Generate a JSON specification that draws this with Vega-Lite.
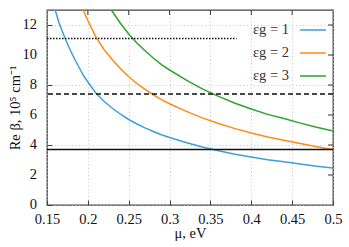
{
  "$schema": "https://vega.github.io/schema/vega-lite/v6.json",
  "width": 286,
  "height": 195,
  "autosize": {"type": "none"},
  "padding": {"left": 47, "top": 10, "right": 16, "bottom": 42},
  "config": {
    "view": {"stroke": "#444", "strokeWidth": 1.3},
    "font": "Liberation Serif",
    "axis": {
      "domain": false,
      "tickColor": "#444",
      "tickSize": -5,
      "tickWidth": 1.1,
      "labelFont": "Liberation Serif",
      "labelFontSize": 14.5,
      "labelColor": "#111",
      "labelOverlap": false,
      "labelFlush": false,
      "titleFont": "Liberation Serif",
      "titleFontSize": 14.5,
      "titleFontWeight": "normal",
      "titleColor": "#111",
      "grid": true,
      "gridColor": "#bbb",
      "gridDash": [1, 2.5],
      "gridWidth": 0.8
    },
    "legend": {
      "labelFont": "Liberation Serif",
      "labelFontSize": 14.5,
      "labelColor": "#333"
    }
  },
  "datasets": {
    "curves": [
      {"mu": 0.158, "beta": 13.4, "eps": "εg = 1"},
      {"mu": 0.160, "beta": 13.0, "eps": "εg = 1"},
      {"mu": 0.165, "beta": 12.1, "eps": "εg = 1"},
      {"mu": 0.170, "beta": 11.4, "eps": "εg = 1"},
      {"mu": 0.175, "beta": 10.75, "eps": "εg = 1"},
      {"mu": 0.180, "beta": 10.15, "eps": "εg = 1"},
      {"mu": 0.185, "beta": 9.6, "eps": "εg = 1"},
      {"mu": 0.190, "beta": 9.1, "eps": "εg = 1"},
      {"mu": 0.195, "beta": 8.6, "eps": "εg = 1"},
      {"mu": 0.200, "beta": 8.2, "eps": "εg = 1"},
      {"mu": 0.210, "beta": 7.45, "eps": "εg = 1"},
      {"mu": 0.220, "beta": 6.9, "eps": "εg = 1"},
      {"mu": 0.230, "beta": 6.45, "eps": "εg = 1"},
      {"mu": 0.240, "beta": 6.05, "eps": "εg = 1"},
      {"mu": 0.250, "beta": 5.7, "eps": "εg = 1"},
      {"mu": 0.260, "beta": 5.4, "eps": "εg = 1"},
      {"mu": 0.270, "beta": 5.14, "eps": "εg = 1"},
      {"mu": 0.280, "beta": 4.9, "eps": "εg = 1"},
      {"mu": 0.290, "beta": 4.68, "eps": "εg = 1"},
      {"mu": 0.300, "beta": 4.5, "eps": "εg = 1"},
      {"mu": 0.320, "beta": 4.17, "eps": "εg = 1"},
      {"mu": 0.340, "beta": 3.87, "eps": "εg = 1"},
      {"mu": 0.360, "beta": 3.62, "eps": "εg = 1"},
      {"mu": 0.380, "beta": 3.39, "eps": "εg = 1"},
      {"mu": 0.400, "beta": 3.2, "eps": "εg = 1"},
      {"mu": 0.420, "beta": 3.02, "eps": "εg = 1"},
      {"mu": 0.440, "beta": 2.88, "eps": "εg = 1"},
      {"mu": 0.460, "beta": 2.73, "eps": "εg = 1"},
      {"mu": 0.480, "beta": 2.59, "eps": "εg = 1"},
      {"mu": 0.500, "beta": 2.46, "eps": "εg = 1"},
      {"mu": 0.190, "beta": 13.65, "eps": "εg = 2"},
      {"mu": 0.195, "beta": 12.9, "eps": "εg = 2"},
      {"mu": 0.200, "beta": 12.3, "eps": "εg = 2"},
      {"mu": 0.210, "beta": 11.18, "eps": "εg = 2"},
      {"mu": 0.220, "beta": 10.35, "eps": "εg = 2"},
      {"mu": 0.230, "beta": 9.68, "eps": "εg = 2"},
      {"mu": 0.240, "beta": 9.08, "eps": "εg = 2"},
      {"mu": 0.250, "beta": 8.55, "eps": "εg = 2"},
      {"mu": 0.260, "beta": 8.1, "eps": "εg = 2"},
      {"mu": 0.270, "beta": 7.71, "eps": "εg = 2"},
      {"mu": 0.280, "beta": 7.35, "eps": "εg = 2"},
      {"mu": 0.290, "beta": 7.02, "eps": "εg = 2"},
      {"mu": 0.300, "beta": 6.75, "eps": "εg = 2"},
      {"mu": 0.320, "beta": 6.26, "eps": "εg = 2"},
      {"mu": 0.340, "beta": 5.81, "eps": "εg = 2"},
      {"mu": 0.360, "beta": 5.43, "eps": "εg = 2"},
      {"mu": 0.380, "beta": 5.09, "eps": "εg = 2"},
      {"mu": 0.400, "beta": 4.8, "eps": "εg = 2"},
      {"mu": 0.420, "beta": 4.53, "eps": "εg = 2"},
      {"mu": 0.440, "beta": 4.32, "eps": "εg = 2"},
      {"mu": 0.460, "beta": 4.1, "eps": "εg = 2"},
      {"mu": 0.480, "beta": 3.89, "eps": "εg = 2"},
      {"mu": 0.500, "beta": 3.7, "eps": "εg = 2"},
      {"mu": 0.220, "beta": 13.8, "eps": "εg = 3"},
      {"mu": 0.230, "beta": 12.9, "eps": "εg = 3"},
      {"mu": 0.240, "beta": 12.1, "eps": "εg = 3"},
      {"mu": 0.250, "beta": 11.4, "eps": "εg = 3"},
      {"mu": 0.260, "beta": 10.8, "eps": "εg = 3"},
      {"mu": 0.270, "beta": 10.28, "eps": "εg = 3"},
      {"mu": 0.280, "beta": 9.8, "eps": "εg = 3"},
      {"mu": 0.290, "beta": 9.36, "eps": "εg = 3"},
      {"mu": 0.300, "beta": 9.0, "eps": "εg = 3"},
      {"mu": 0.320, "beta": 8.34, "eps": "εg = 3"},
      {"mu": 0.340, "beta": 7.74, "eps": "εg = 3"},
      {"mu": 0.360, "beta": 7.24, "eps": "εg = 3"},
      {"mu": 0.380, "beta": 6.78, "eps": "εg = 3"},
      {"mu": 0.400, "beta": 6.4, "eps": "εg = 3"},
      {"mu": 0.420, "beta": 6.04, "eps": "εg = 3"},
      {"mu": 0.440, "beta": 5.76, "eps": "εg = 3"},
      {"mu": 0.460, "beta": 5.46, "eps": "εg = 3"},
      {"mu": 0.480, "beta": 5.18, "eps": "εg = 3"},
      {"mu": 0.500, "beta": 4.94, "eps": "εg = 3"}
    ],
    "solid": [{"level": 3.7}],
    "dashed": [{"level": 7.4}],
    "dotted": [{"from": 0.15, "to": 0.382, "level": 11.1}],
    "xticks": [{"t": 0.2}, {"t": 0.25}, {"t": 0.3}, {"t": 0.35}, {"t": 0.4}, {"t": 0.45}],
    "yticks": [{"t": 2}, {"t": 4}, {"t": 6}, {"t": 8}, {"t": 10}, {"t": 12}],
    "ylabels": [{"t": 0}, {"t": 2}, {"t": 4}, {"t": 6}, {"t": 8}, {"t": 10}, {"t": 12}]
  },
  "layer": [
    {
      "data": {"name": "curves"},
      "mark": {"type": "line", "clip": true, "strokeWidth": 1.5},
      "encoding": {
        "x": {
          "field": "mu", "type": "quantitative",
          "scale": {"domain": [0.15, 0.5], "nice": false, "zero": false},
          "axis": {
            "title": "μ, eV",
            "values": [0.15, 0.2, 0.25, 0.3, 0.35, 0.4, 0.45, 0.5],
            "format": "~g",
            "labelOverlap": false,
            "labelPadding": 12,
            "titlePadding": 1
          }
        },
        "y": {
          "field": "beta", "type": "quantitative",
          "scale": {"domain": [0, 13], "nice": false, "zero": false},
          "axis": {
            "title": "Re β, 10⁵ cm⁻¹",
            "values": [0, 2, 4, 6, 8, 10, 12],
            "labels": false,
            "titlePadding": 24
          }
        },
        "color": {
          "field": "eps", "type": "nominal",
          "scale": {"domain": ["εg = 1", "εg = 2", "εg = 3"], "range": ["#3f9fd5", "#ff8a17", "#2ba52d"]},
          "legend": {
            "title": null,
            "orient": "none",
            "legendX": 252,
            "legendY": 6,
            "padding": 0,
            "symbolType": "stroke",
            "symbolSize": 676,
            "symbolStrokeWidth": 1.5,
            "labelAlign": "right",
            "labelOffset": -38,
            "rowPadding": 2
          }
        }
      }
    },
    {
      "data": {"name": "ylabels"},
      "mark": {"type": "text", "align": "right", "baseline": "middle", "dx": -10, "font": "Liberation Serif", "fontSize": 14.5, "color": "#111"},
      "encoding": {
        "y": {"field": "t", "type": "quantitative"},
        "x": {"datum": 0.15},
        "text": {"field": "t", "type": "quantitative"}
      }
    },
    {
      "data": {"name": "solid"},
      "mark": {"type": "rule", "color": "#111", "strokeWidth": 1.3},
      "encoding": {"y": {"field": "level", "type": "quantitative"}}
    },
    {
      "data": {"name": "dashed"},
      "mark": {"type": "rule", "color": "#111", "strokeWidth": 1.3, "strokeDash": [5, 3]},
      "encoding": {"y": {"field": "level", "type": "quantitative"}}
    },
    {
      "data": {"name": "dotted"},
      "mark": {"type": "rule", "color": "#111", "strokeWidth": 1.3, "strokeDash": [1.5, 1.5]},
      "encoding": {
        "x": {"field": "from", "type": "quantitative"},
        "x2": {"field": "to"},
        "y": {"field": "level", "type": "quantitative"}
      }
    },
    {
      "data": {"name": "xticks"},
      "mark": {"type": "rule", "color": "#444", "strokeWidth": 1.1},
      "encoding": {
        "x": {"field": "t", "type": "quantitative"},
        "y": {"datum": 13},
        "y2": {"datum": 12.67}
      }
    },
    {
      "data": {"name": "yticks"},
      "mark": {"type": "rule", "color": "#444", "strokeWidth": 1.1},
      "encoding": {
        "y": {"field": "t", "type": "quantitative"},
        "x": {"datum": 0.5},
        "x2": {"datum": 0.4939}
      }
    }
  ]
}
